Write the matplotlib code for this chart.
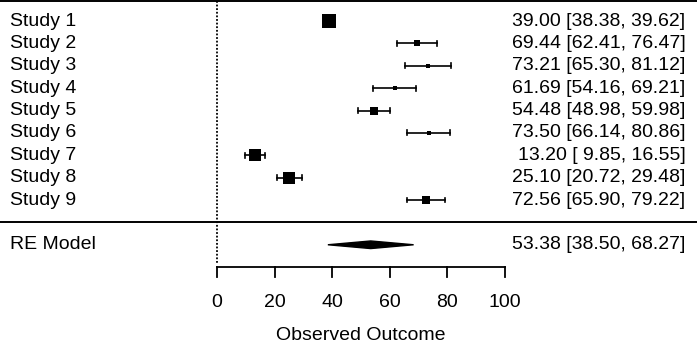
import numpy as np
import matplotlib.pyplot as plt

plt.rcParams['font.family'] = ['Liberation Sans', 'DejaVu Sans']

# Study data
study_labels = ["Study 1", "Study 2", "Study 3", "Study 4", "Study 5",
                "Study 6", "Study 7", "Study 8", "Study 9"]
estimates = [39.00, 69.44, 73.21, 61.69, 54.48, 73.50, 13.20, 25.10, 72.56]
ci_lower = [38.38, 62.41, 65.30, 54.16, 48.98, 66.14, 9.85, 20.72, 65.90]
ci_upper = [39.62, 76.47, 81.12, 69.21, 59.98, 80.86, 16.55, 29.48, 79.22]
# relative weights
weights = [13.3, 5.3, 4.0, 4.7, 8.3, 4.0, 12.0, 11.7, 7.7]

# Pooled random-effects estimate
re_label = "RE Model"
re_estimate = 53.38
re_lower = 38.50
re_upper = 68.27

x_ticks = [0, 20, 40, 60, 80, 100]
x_label = "Observed Outcome"


def fmt_ci(est, lb, ub):
    return "%.2f [%5.2f, %.2f]" % (est, lb, ub)


# Create Figure
figure_1 = plt.figure(figsize=(6.97, 3.46), dpi=100)
axis_1 = figure_1.add_axes([0, 0, 1, 1])
axis_1.set_xlim(-75.35, 166.67)
axis_1.set_ylim(-5.525, 9.94)
axis_1.axis("off")

n_studies = len(study_labels)
rows = np.arange(n_studies, 0, -1)
font_size = 14

# Plot Studies
w = np.array(weights)
square_px = 4 + (w - w.min()) / (w.max() - w.min()) * (13.3 - 4)
for row, label, est, lb, ub, side in zip(rows, study_labels, estimates, ci_lower, ci_upper, square_px):
    axis_1.plot([lb, ub], [row, row], color="black", lw=1.2)
    axis_1.plot([lb, lb], [row - 0.11, row + 0.11], color="black", lw=1.2)
    axis_1.plot([ub, ub], [row - 0.11, row + 0.11], color="black", lw=1.2)
    axis_1.plot(est, row, marker="s", color="black", markersize=side * 0.72, markeredgewidth=0)
    axis_1.text(-72.0, row, label, ha="left", va="center", fontsize=font_size)
    axis_1.text(162.6, row, fmt_ci(est, lb, ub), ha="right", va="center", fontsize=font_size)

# RE diamond
re_row = -1
axis_1.fill([re_lower, re_estimate, re_upper, re_estimate],
            [re_row, re_row + 0.17, re_row, re_row - 0.17], color="black", lw=1)
axis_1.text(-72.0, re_row, re_label, ha="left", va="center", fontsize=font_size)
axis_1.text(162.6, re_row, fmt_ci(re_estimate, re_lower, re_upper), ha="right", va="center", fontsize=font_size)

# Reference lines
axis_1.axhline(9.9, color="black", lw=1.4)
axis_1.axhline(0, color="black", lw=1.4)
axis_1.plot([0, 0], [9.9, -1.8], color="black", lw=1.3, linestyle=(0, (1, 1)))

# x axis
axis_1.plot([x_ticks[0], x_ticks[-1]], [-2, -2], color="black", lw=1.3)
for t in x_ticks:
    axis_1.plot([t, t], [-2, -2.45], color="black", lw=1.3)
    axis_1.text(t, -3.56, str(t), ha="center", va="center", fontsize=font_size)
axis_1.text(50, -5.05, x_label, ha="center", va="center", fontsize=font_size)

plt.savefig("out.png", dpi=100)
plt.close()
